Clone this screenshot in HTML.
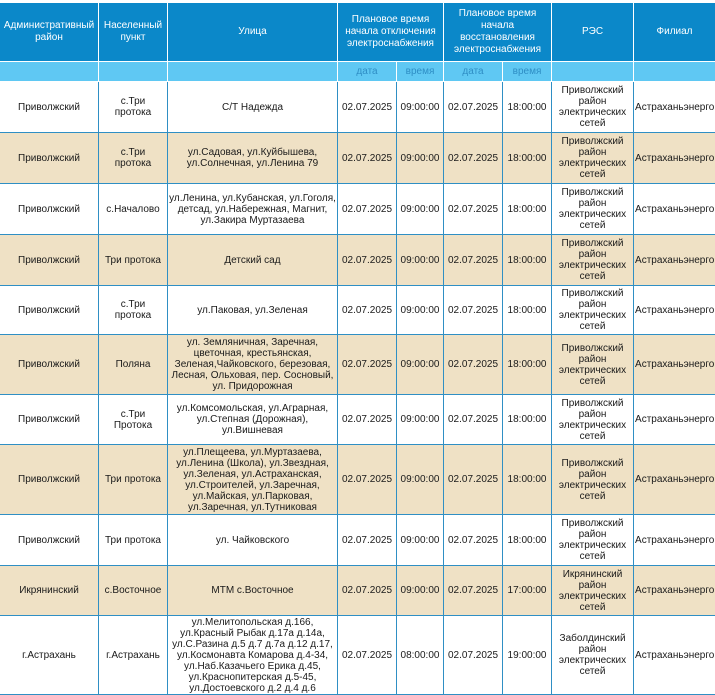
<!DOCTYPE html>
<html><head><meta charset="utf-8"><style>
body{margin:0;width:715px;height:695px;overflow:hidden;background:#fff;font-family:"Liberation Sans","DejaVu Sans",sans-serif;}
table{border-collapse:collapse;table-layout:fixed;width:716px;margin-left:-1px;}
td{border:1px solid #2f8fc4;text-align:center;vertical-align:middle;font-size:10px;line-height:11px;color:#1a1a1a;padding:0 1px;overflow:hidden;white-space:nowrap;}
tr.h td{background:#0b88c9;color:#fff;height:58px;line-height:12px;border-color:#fff;}
tr.s td{background:#5fc8f3;color:#2e8ec5;height:19px;border-color:#fff;}
tr.b td{background:#efe1c5;}
</style></head><body>
<div style="height:2px"></div>
<table>
<colgroup><col style="width:99px"><col style="width:69px"><col style="width:170px"><col style="width:59px"><col style="width:47px"><col style="width:59px"><col style="width:49px"><col style="width:82px"><col style="width:82px"></colgroup>
<tr class="h"><td>Административный<br>район</td><td>Населенный<br>пункт</td><td>Улица</td><td colspan="2">Плановое время<br>начала отключения<br>электроснабжения</td><td colspan="2">Плановое время<br>начала<br>восстановления<br>электроснабжения</td><td>РЭС</td><td>Филиал</td></tr>
<tr class="s"><td></td><td></td><td></td><td>дата</td><td>время</td><td>дата</td><td>время</td><td></td><td></td></tr>
<tr style="height:51px"><td>Приволжский</td><td>с.Три<br>протока</td><td>С/Т Надежда</td><td>02.07.2025</td><td>09:00:00</td><td>02.07.2025</td><td>18:00:00</td><td>Приволжский<br>район<br>электрических<br>сетей</td><td>Астраханьэнерго</td></tr>
<tr class="b" style="height:51px"><td>Приволжский</td><td>с.Три<br>протока</td><td>ул.Садовая, ул.Куйбышева,<br>ул.Солнечная, ул.Ленина 79</td><td>02.07.2025</td><td>09:00:00</td><td>02.07.2025</td><td>18:00:00</td><td>Приволжский<br>район<br>электрических<br>сетей</td><td>Астраханьэнерго</td></tr>
<tr style="height:51px"><td>Приволжский</td><td>с.Началово</td><td>ул.Ленина, ул.Кубанская, ул.Гоголя,<br>детсад, ул.Набережная, Магнит,<br>ул.Закира Муртазаева</td><td>02.07.2025</td><td>09:00:00</td><td>02.07.2025</td><td>18:00:00</td><td>Приволжский<br>район<br>электрических<br>сетей</td><td>Астраханьэнерго</td></tr>
<tr class="b" style="height:51px"><td>Приволжский</td><td>Три протока</td><td>Детский сад</td><td>02.07.2025</td><td>09:00:00</td><td>02.07.2025</td><td>18:00:00</td><td>Приволжский<br>район<br>электрических<br>сетей</td><td>Астраханьэнерго</td></tr>
<tr style="height:49px"><td>Приволжский</td><td>с.Три<br>протока</td><td>ул.Паковая, ул.Зеленая</td><td>02.07.2025</td><td>09:00:00</td><td>02.07.2025</td><td>18:00:00</td><td>Приволжский<br>район<br>электрических<br>сетей</td><td>Астраханьэнерго</td></tr>
<tr class="b" style="height:60px"><td>Приволжский</td><td>Поляна</td><td>ул. Земляничная, Заречная,<br>цветочная, крестьянская,<br>Зеленая,Чайковского, березовая,<br>Лесная, Ольховая, пер. Сосновый,<br>ул. Придорожная</td><td>02.07.2025</td><td>09:00:00</td><td>02.07.2025</td><td>18:00:00</td><td>Приволжский<br>район<br>электрических<br>сетей</td><td>Астраханьэнерго</td></tr>
<tr style="height:50px"><td>Приволжский</td><td>с.Три<br>Протока</td><td>ул.Комсомольская, ул.Аграрная,<br>ул.Степная (Дорожная),<br>ул.Вишневая</td><td>02.07.2025</td><td>09:00:00</td><td>02.07.2025</td><td>18:00:00</td><td>Приволжский<br>район<br>электрических<br>сетей</td><td>Астраханьэнерго</td></tr>
<tr class="b" style="height:70px"><td>Приволжский</td><td>Три протока</td><td>ул.Плещеева, ул.Муртазаева,<br>ул.Ленина (Школа), ул.Звездная,<br>ул.Зеленая, ул.Астраханская,<br>ул.Строителей, ул.Заречная,<br>ул.Майская, ул.Парковая,<br>ул.Заречная, ул.Тутниковая</td><td>02.07.2025</td><td>09:00:00</td><td>02.07.2025</td><td>18:00:00</td><td>Приволжский<br>район<br>электрических<br>сетей</td><td>Астраханьэнерго</td></tr>
<tr style="height:51px"><td>Приволжский</td><td>Три протока</td><td>ул. Чайковского</td><td>02.07.2025</td><td>09:00:00</td><td>02.07.2025</td><td>18:00:00</td><td>Приволжский<br>район<br>электрических<br>сетей</td><td>Астраханьэнерго</td></tr>
<tr class="b" style="height:50px"><td>Икрянинский</td><td>с.Восточное</td><td>МТМ с.Восточное</td><td>02.07.2025</td><td>09:00:00</td><td>02.07.2025</td><td>17:00:00</td><td>Икрянинский<br>район<br>электрических<br>сетей</td><td>Астраханьэнерго</td></tr>
<tr style="height:79px"><td>г.Астрахань</td><td>г.Астрахань</td><td>ул.Мелитопольская д.166,<br>ул.Красный Рыбак д.17а д.14а,<br>ул.С.Разина д.5 д.7 д.7а д.12 д.17,<br>ул.Космонавта Комарова д.4-34,<br>ул.Наб.Казачьего Ерика д.45,<br>ул.Краснопитерская д.5-45,<br>ул.Достоевского д.2 д.4 д.6</td><td>02.07.2025</td><td>08:00:00</td><td>02.07.2025</td><td>19:00:00</td><td>Заболдинский<br>район<br>электрических<br>сетей</td><td>Астраханьэнерго</td></tr>
</table>
</body></html>
